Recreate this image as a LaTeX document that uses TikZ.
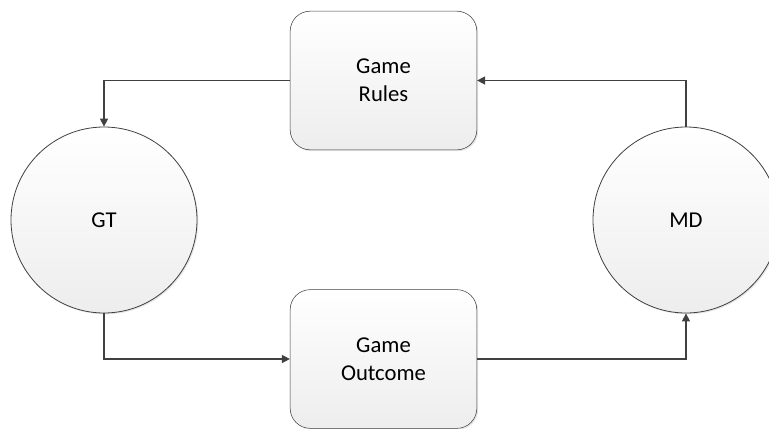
\documentclass[tikz,border=0pt]{standalone}
\usepackage{fontspec}
\setmainfont{Carlito}
\usetikzlibrary{arrows.meta,positioning,shadows}
\definecolor{linegray}{HTML}{404040}
\tikzstyle{every node}=[font=\fontsize{17}{21}\selectfont,text=black]
\tikzstyle{block}=[draw=linegray,rounded corners=15pt,minimum width=140pt,minimum height=104pt,top color=white,bottom color=black!7,drop shadow={opacity=0.2,shadow xshift=1pt,shadow yshift=-1pt},align=center]
\tikzstyle{party}=[circle,draw=linegray,line width=0.6pt,minimum size=139.5pt,top color=white,bottom color=black!7,drop shadow={opacity=0.2,shadow xshift=1pt,shadow yshift=-1pt}]
\tikzstyle{flow}=[draw=linegray,line width=1pt,-{Triangle[length=6pt,width=6pt]}]

\begin{document}
\begin{tikzpicture}[x=0.75pt,y=-0.75pt]
  \useasboundingbox (0,0) rectangle (769,429);
  \node[party]  (gt) at (104,220)  {GT};
  \node[party]  (md) at (686,220)  {MD};
  \node[block]  (rules) at (383.5,80.5) {Game\\Rules};
  \node[block]  (outcome) at (383.5,359) {Game\\Outcome};

  \draw[flow] (rules.west) -| (gt.north);
  \draw[flow] (gt.south) |- (outcome.west);
  \draw[flow] (outcome.east) -| (md.south);
  \draw[flow] (md.north) |- (rules.east);
\end{tikzpicture}
\end{document}
